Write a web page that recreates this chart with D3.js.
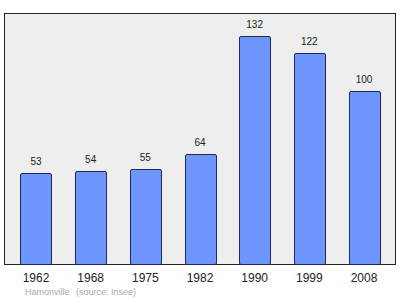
<!DOCTYPE html>
<html>
<head>
<meta charset="utf-8">
<script src="https://cdn.jsdelivr.net/npm/d3@7"></script>
<style>
  body { margin: 0; background: #fff; }
  svg { display: block; font-family: "Liberation Sans", Arial, sans-serif; }
</style>
</head>
<body>
<svg id="chart"></svg>
<script>
const years = ["1962", "1968", "1975", "1982", "1990", "1999", "2008"];
const population = [53, 54, 55, 64, 132, 122, 100];
const town = "Hamonville";
const source = "(source: Insee)";

const width = 400, height = 299;
const frame = { left: 4.5, top: 13.5, right: 395.5, bottom: 264.5 };

const svg = d3.select('#chart')
    .attr('width', width)
    .attr('height', height);

svg.append('rect')
    .attr('x', frame.left)
    .attr('y', frame.top)
    .attr('width', frame.right - frame.left)
    .attr('height', frame.bottom - frame.top)
    .attr('fill', '#eeeeee')
    .attr('stroke', '#222')
    .attr('stroke-width', 1);

const x = d3.scaleBand()
    .domain(years)
    .range([frame.left, frame.right])
    .paddingInner(0.433)
    .paddingOuter(0.2925);

const y = d3.scaleLinear()
    .domain([0, 145])
    .range([frame.bottom, frame.top]);

const data = years.map((d, i) => ({ year: d, value: population[i] }));

svg.selectAll('rect.bar')
    .data(data)
    .enter()
    .append('rect')
    .attr('class', 'bar')
    .attr('x', d => Math.round(x(d.year)) + 0.5)
    .attr('y', d => Math.round(y(d.value)) + 0.5)
    .attr('width', Math.round(x.bandwidth()))
    .attr('height', d => frame.bottom - Math.round(y(d.value)) - 0.5)
    .attr('rx', 1.5)
    .attr('fill', '#6f96ff')
    .attr('stroke', '#1f2a55')
    .attr('stroke-width', 1);

svg.selectAll('text.value')
    .data(data)
    .enter()
    .append('text')
    .attr('class', 'value')
    .attr('x', d => x(d.year) + x.bandwidth() / 2)
    .attr('y', d => y(d.value) - 8)
    .attr('text-anchor', 'middle')
    .attr('font-size', '10px')
    .attr('fill', '#222')
    .text(d => d.value);

svg.selectAll('text.year')
    .data(data)
    .enter()
    .append('text')
    .attr('class', 'year')
    .attr('x', d => x(d.year) + x.bandwidth() / 2)
    .attr('y', 282)
    .attr('text-anchor', 'middle')
    .attr('font-size', '12px')
    .attr('fill', '#222')
    .text(d => d.year);

svg.append('text')
    .attr('x', 25)
    .attr('y', 295)
    .attr('font-size', '9px')
    .attr('fill', '#aaa')
    .text(town);

svg.append('text')
    .attr('x', 76)
    .attr('y', 295)
    .attr('font-size', '9px')
    .attr('fill', '#aaa')
    .text(source);
</script>
</body>
</html>
